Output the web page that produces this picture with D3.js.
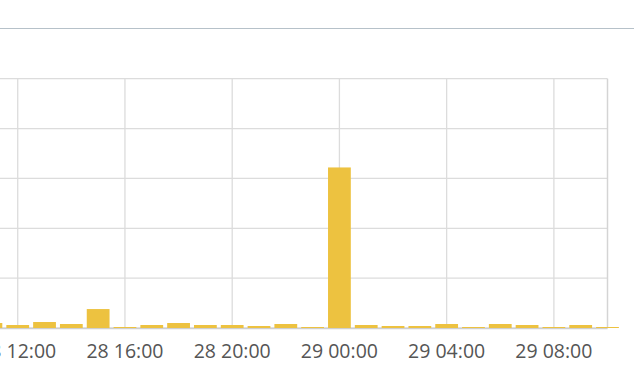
<!DOCTYPE html>
<html>
<head>
<meta charset="utf-8">
<script src="https://cdn.jsdelivr.net/npm/d3@7"></script>
<style>
  html, body { margin: 0; padding: 0; background: #fff; overflow: hidden; }
  svg { display: block; }
</style>
</head>
<body>
<div id="chart"></div>
<script>
// hourly counts, 28 11:00 .. 29 10:00
const hours = ['28 11:00', '28 12:00', '28 13:00', '28 14:00', '28 15:00', '28 16:00',
    '28 17:00', '28 18:00', '28 19:00', '28 20:00', '28 21:00', '28 22:00', '28 23:00',
    '29 00:00', '29 01:00', '29 02:00', '29 03:00', '29 04:00', '29 05:00', '29 06:00',
    '29 07:00', '29 08:00', '29 09:00', '29 10:00'];
const counts = [5, 3, 6, 4, 19, 1, 3, 5, 3, 3, 2, 4, 1, 161, 3, 2, 2, 4, 1, 4, 3, 1, 3, 1];
const yTicks = [0, 50, 100, 150, 200, 250];

const WIDTH = 634;
const HEIGHT = 379;
const PLOT_LEFT = -62.7;   // left part of the chart is outside the view
const PLOT_RIGHT = 607.5;
const PLOT_TOP = 78.7;
const PLOT_BOTTOM = 328;

const parseHour = d3.utcParse('%Y-%m-%d %H:%M');
const toDate = s => parseHour('2019-05-' + s);
const data = hours.map((h, i) => ({ t: toDate(h), v: counts[i] }));

const svg = d3.select('#chart')
    .append('svg')
    .attr('width', WIDTH)
    .attr('height', HEIGHT);

// separator line at the top
svg.append('line')
    .attr('x1', 0).attr('x2', WIDTH)
    .attr('y1', 28.5).attr('y2', 28.5)
    .attr('stroke', '#b6c1c9')
    .attr('stroke-width', 1);

const x = d3.scaleUtc()
    .domain([toDate('28 09:00'), toDate('29 10:00')])
    .range([PLOT_LEFT, PLOT_RIGHT]);

const y = d3.scaleLinear()
    .domain([0, 250])
    .range([PLOT_BOTTOM, PLOT_TOP]);

const xTicks = x.ticks(d3.utcHour.every(4));

// horizontal grid
svg.append('g')
    .selectAll('line')
    .data(yTicks)
    .enter()
    .append('line')
    .attr('x1', PLOT_LEFT)
    .attr('x2', PLOT_RIGHT)
    .attr('y1', d => y(d))
    .attr('y2', d => y(d))
    .attr('stroke', '#dcdcdc')
    .attr('stroke-width', 1.3);

// vertical grid
svg.append('g')
    .selectAll('line')
    .data(xTicks)
    .enter()
    .append('line')
    .attr('x1', d => x(d))
    .attr('x2', d => x(d))
    .attr('y1', PLOT_TOP)
    .attr('y2', PLOT_BOTTOM)
    .attr('stroke', '#dcdcdc')
    .attr('stroke-width', 1.3);

// right border of plot
svg.append('line')
    .attr('x1', PLOT_RIGHT).attr('x2', PLOT_RIGHT)
    .attr('y1', PLOT_TOP).attr('y2', PLOT_BOTTOM)
    .attr('stroke', '#d4d4d4')
    .attr('stroke-width', 1.5);

// x axis line
svg.append('line')
    .attr('x1', PLOT_LEFT).attr('x2', PLOT_RIGHT)
    .attr('y1', PLOT_BOTTOM + 0.6).attr('y2', PLOT_BOTTOM + 0.6)
    .attr('stroke', '#cfcfcf')
    .attr('stroke-width', 1.5);

// bars, centred on their hour
const hourPx = x(toDate('28 10:00')) - x(toDate('28 09:00'));
const barW = hourPx * 0.85;

svg.append('g')
    .selectAll('rect')
    .data(data)
    .enter()
    .append('rect')
    .attr('x', d => x(d.t) - barW / 2)
    .attr('y', d => y(d.v))
    .attr('width', barW)
    .attr('height', d => PLOT_BOTTOM - y(d.v))
    .style('fill', '#edc240');

// tick labels
const fmt = d3.utcFormat('%d %H:%M');
svg.append('g')
    .selectAll('text')
    .data(xTicks)
    .enter()
    .append('text')
    .text(d => fmt(d))
    .attr('x', d => x(d))
    .attr('y', 358)
    .attr('text-anchor', 'middle')
    .attr('font-family', 'Open Sans, sans-serif')
    .attr('font-size', 19.5)
    .attr('fill', '#555');
</script>
</body>
</html>
